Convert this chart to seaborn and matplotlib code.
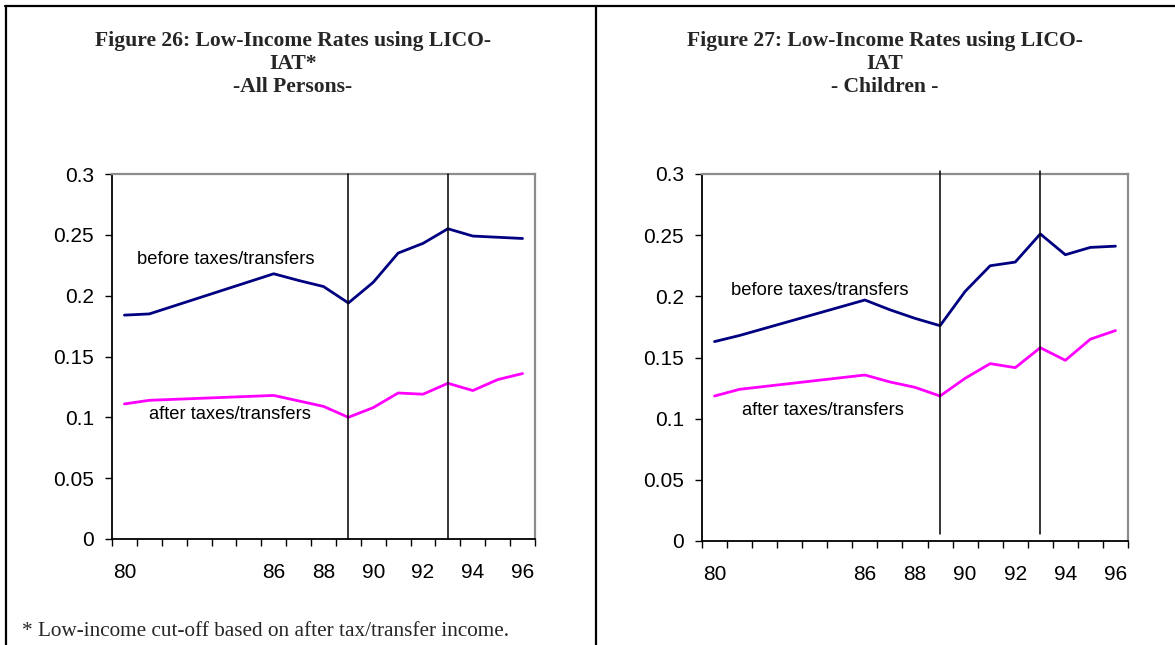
import numpy as np
import pandas as pd
import matplotlib
matplotlib.use("Agg")
import matplotlib.pyplot as plt
from matplotlib.ticker import FuncFormatter
import seaborn as sns

# Survey years (19xx); 1982-1985 are not available
years = [80, 81, 86, 87, 88, 89, 90, 91, 92, 93, 94, 95, 96]

# All persons
all_before = [0.184, 0.185, 0.218, 0.2125, 0.2075, 0.194, 0.211, 0.235, 0.243, 0.255, 0.249, 0.248, 0.247]
all_after = [0.111, 0.114, 0.118, 0.1135, 0.109, 0.100, 0.108, 0.120, 0.119, 0.128, 0.122, 0.131, 0.136]

# Children
kid_before = [0.163, 0.168, 0.197, 0.189, 0.182, 0.176, 0.204, 0.225, 0.228, 0.251, 0.234, 0.240, 0.241]
kid_after = [0.1185, 0.124, 0.1357, 0.130, 0.1256, 0.1185, 0.133, 0.145, 0.1417, 0.158, 0.1477, 0.165, 0.172]

tick_years = [80, 86, 88, 90, 92, 94, 96]
y_ticks = [0, 0.05, 0.1, 0.15, 0.2, 0.25, 0.3]
marker_years = [89, 93]

label_before = "before taxes/transfers"
label_after = "after taxes/transfers"

title_left = "Figure 26: Low-Income Rates using LICO-\nIAT*\n-All Persons-"
title_right = "Figure 27: Low-Income Rates using LICO-\nIAT\n- Children -"
footnote = "* Low-income cut-off based on after tax/transfer income."

sns.set_theme(style="white")
plt.rcParams["font.family"] = ["Liberation Sans", "DejaVu Sans"]

W, H = 1175, 645
fig = plt.figure(figsize=(W / 100, H / 100), dpi=100)
fig.patch.set_facecolor("white")

NAVY = "#000080"
MAGENTA = "#FF00FF"
ANN = 13.2
TICK = 15
SERIF = ["Liberation Serif", "DejaVu Serif"]


def px_rect(x0, y0, x1, y1):
    return [x0 / W, 1 - y1 / H, (x1 - x0) / W, (y1 - y0) / H]


def draw_panel(ax, before, after, ann_before, ann_after, vline_span):
    df = pd.DataFrame({
        "year": years * 2,
        "rate": before + after,
        "series": [label_before] * len(years) + [label_after] * len(years),
    })
    sns.lineplot(data=df, x="year", y="rate", hue="series",
                 palette={label_before: NAVY, label_after: MAGENTA},
                 linewidth=2.0, legend=False, ax=ax, sort=False)
    ax.set_xlim(79.5, 96.5)
    ax.set_ylim(0, 0.3)
    ax.set_xlabel("")
    ax.set_ylabel("")

    # tick marks at category boundaries, labels at category centres
    ax.set_xticks(np.arange(79.5, 97.0, 1.0))
    ax.set_xticklabels([])
    ax.set_xticks(tick_years, minor=True)
    ax.set_xticklabels([str(t) for t in tick_years], minor=True, fontsize=TICK)
    ax.tick_params(axis="x", which="major", direction="out", length=5, width=1,
                   color="black", bottom=True)
    ax.tick_params(axis="x", which="minor", length=0, pad=17, labelcolor="black")

    ax.set_yticks(y_ticks)
    ax.yaxis.set_major_formatter(FuncFormatter(lambda v, p: f"{v:g}"))
    ax.tick_params(axis="y", direction="out", length=5, width=1, color="black",
                   left=True, labelsize=TICK, pad=8, labelcolor="black")

    for side in ("left", "bottom"):
        ax.spines[side].set_color("black")
        ax.spines[side].set_linewidth(1.3)
    for side in ("top", "right"):
        ax.spines[side].set_color("#8c8c8c")
        ax.spines[side].set_linewidth(1.6)
    ax.grid(False)

    lo, hi = vline_span
    for yr in marker_years:
        ax.axvline(yr, ymin=lo, ymax=hi, color="black", linewidth=1.1,
                   clip_on=False, zorder=5)

    ax.text(ann_before[0], ann_before[1], label_before, fontsize=ANN,
            va="center", ha="left", color="black")
    ax.text(ann_after[0], ann_after[1], label_after, fontsize=ANN,
            va="center", ha="left", color="black")


ax1 = fig.add_axes(px_rect(112, 174, 535, 539))
draw_panel(ax1, all_before, all_after, (80.5, 0.230), (81.0, 0.1027), (0.0, 1.0))

ax2 = fig.add_axes(px_rect(702, 174, 1128, 541))
draw_panel(ax2, kid_before, kid_after, (80.65, 0.205), (81.1, 0.1063), (0.019, 1.007))

# titles
fig.text(293 / W, 1 - 64 / H, title_left, ha="center", va="center",
         family=SERIF, fontweight="bold", fontsize=15.6, linespacing=1.22)
fig.text(885 / W, 1 - 64 / H, title_right, ha="center", va="center",
         family=SERIF, fontweight="bold", fontsize=15.6, linespacing=1.22)
fig.text(22 / W, 1 - 631 / H, footnote, ha="left", va="center",
         family=SERIF, fontsize=15.3)

# page frame around the two panels
frame = dict(color="black", linewidth=1.6, transform=fig.transFigure, clip_on=False)
fig.add_artist(plt.Line2D([5 / W, 1.0], [1 - 6 / H, 1 - 6 / H], **frame))
fig.add_artist(plt.Line2D([6 / W, 6 / W], [0, 1 - 6 / H], **frame))
fig.add_artist(plt.Line2D([596 / W, 596 / W], [0, 1 - 6 / H], **frame))

fig.savefig("out.png", dpi=100, facecolor="white")
